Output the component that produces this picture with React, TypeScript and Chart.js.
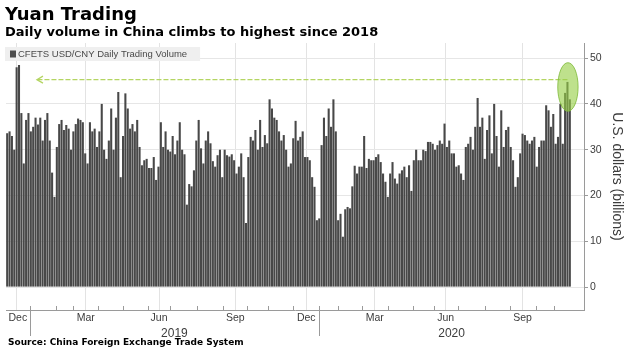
import React, { useEffect, useRef } from 'react';
import { Chart, registerables } from 'chart.js';

Chart.register(...registerables);

const titleText = 'Yuan Trading';
const subtitleText = 'Daily volume in China climbs to highest since 2018';
const sourceText = 'Source: China Foreign Exchange Trade System';
const seriesLabel = 'CFETS USD/CNY Daily Trading Volume';
const yAxisTitle = 'U.S. dollars (billions)';

// Calendar months on the axis (Dec 2018 – Nov 2020) and trading days in each
const months = ['Dec', 'Jan', 'Feb', 'Mar', 'Apr', 'May', 'Jun', 'Jul', 'Aug', 'Sep', 'Oct', 'Nov', 'Dec', 'Jan', 'Feb', 'Mar', 'Apr', 'May', 'Jun', 'Jul', 'Aug', 'Sep', 'Oct', 'Nov'];
const tradingDaysPerMonth = [20, 22, 15, 21, 21, 21, 19, 23, 22, 20, 18, 21, 22, 16, 20, 22, 21, 18, 20, 23, 21, 22, 16, 21];
const axisEndDay = 489;
const labelledMonths = ['Dec', 'Mar', 'Jun', 'Sep'];
const gridMonths = ['Jan', 'Apr', 'Jul', 'Oct'];
const yearLabels = ['2019', '2020'];
const yTicks = [0, 10, 20, 30, 40, 50];
const yMin = -5;
const yMax = 53.3;
const daysPerBar = 2;

// USD/CNY volume, billions of dollars (one bar per two trading days)
const volume = [
  33.6, 34, 33, 30, 48, 48.5, 38, 27, 36.5, 38, 34, 35, 37, 35.5, 37, 32, 36.5, 38, 32, 25,
  19.7, 30.6, 35.6, 36.5, 34.3, 35.4, 34.6, 30, 34, 35.6, 36.8, 36.5, 36, 29.2, 27, 36, 34, 34.6, 30.6, 34,
  40, 30, 28, 32, 39, 30, 37, 42.6, 24, 33, 42.3, 39, 34.6, 35.6, 34, 36.5, 30.6, 26.6, 27.7, 28,
  26, 26, 28.4, 23.4, 26.3,
  36, 30.6, 34, 30, 29.6, 33, 29, 32, 36, 30, 29, 18, 22.5, 22, 25.5, 32, 36.5, 30.3, 27, 32,
  34, 31.4, 27.5, 26.3, 28.8, 30, 24, 30, 28.8, 28.5, 29, 27.7, 24.8, 26.3, 29.2, 24, 14, 28.4, 32.8, 32,
  34.3, 30, 36.5, 30.6, 33.2, 31.4, 41, 39, 37, 36.5, 34, 32, 33.2, 30, 26.3, 27, 32.5, 36.3, 32, 32.8,
  34, 28.4, 28.4, 27.7,
  24, 21.9, 14.6, 15, 31, 37, 33, 39, 35, 41, 34, 14.6, 16, 11, 17, 17.5, 17.2, 22, 26.5, 24.8,
  26.3, 26.3, 33, 26, 28, 27.7, 27.7, 28.4, 29, 27.3, 24.8, 23, 19.7, 24.8, 27.3, 23.7, 22.6, 24.8, 25.5, 26.3,
  24, 26.6, 21, 27.7, 30, 27.7, 27.7, 30, 29.7, 31.7, 31.7, 31.3, 30, 31, 32, 31.3, 35.7, 30.6, 32, 29.2,
  29.2, 26.3, 26.6,
  24.8, 23.4, 30.6, 31.3, 32.8, 30, 35, 41.3, 35, 37, 28, 34.3, 37.5, 29.2, 40, 33, 26.3, 38.6, 30.6, 34.3,
  35, 30.6, 27.7, 21.9, 24, 29.2, 33.5, 33.2, 32, 31.3, 32, 32.8, 26.3, 30.6, 32, 32, 39.7, 38.6, 35, 37.8,
  31.3, 32.8, 40, 31.3, 42.4, 44.8, 41,
];

// Annotation: level of the 2018 high, arrow and highlight on the latest readings
const recordLevel = 45.3;
const arrowFromBar = 237;
const arrowToBar = 12.6;
const highlightCenterBar = 237.2;
const highlightCenterValue = 43.7;
const highlightHalfBars = 4.3;
const highlightHalfValue = 5.3;

const NARROW = "'Liberation Sans Narrow', 'Liberation Sans', Arial, sans-serif";
const REGULAR = "'Liberation Sans', Arial, sans-serif";
const HEAD = "'DejaVu Sans', Verdana, sans-serif";

const dayToX = (d: number) => d / daysPerBar - 0.5;

const monthStarts: number[] = [];
{
  let acc = 0;
  for (const n of tradingDaysPerMonth) {
    monthStarts.push(acc);
    acc += n;
  }
}
const monthEnds = monthStarts.map((s, i) => s + tradingDaysPerMonth[i]);
const boundaryXs = monthStarts.slice(1).map(dayToX);
const boundaryNames = months.slice(1);
const gridXs = boundaryXs.filter((_, i) => gridMonths.includes(boundaryNames[i]));
const yearXs = boundaryXs.filter((_, i) => boundaryNames[i] === 'Jan');
const labelIdx = months.map((m, i) => i).filter((i) => labelledMonths.includes(months[i]));
const monthLabelXs = labelIdx.map((i) => dayToX((monthStarts[i] + monthEnds[i]) / 2));
const monthLabelTexts = labelIdx.map((i) => months[i]);
const janIdx = months.map((m, i) => i).filter((i) => months[i] === 'Jan');
const yearSpanStarts = janIdx.map((i) => monthStarts[i]);
const yearSpanEnds = yearSpanStarts.map((s, k) => (k + 1 < yearSpanStarts.length ? yearSpanStarts[k + 1] : axisEndDay));
const yearLabelXs = yearSpanStarts.map((s, k) => dayToX((s + yearSpanEnds[k]) / 2));

const xMin = dayToX(0);
const xMax = dayToX(axisEndDay);

const overlayPlugin = {
  id: 'overlay',
  afterDatasetsDraw(chart: any) {
    const { ctx, chartArea } = chart;
    const xs = chart.scales.x;
    const ys = chart.scales.y;
    ctx.save();
    // month ticks (upward) and year separators (downward)
    ctx.strokeStyle = '#9a9a9a';
    ctx.lineWidth = 1;
    ctx.beginPath();
    boundaryXs.forEach((v) => {
      const px = Math.round(xs.getPixelForValue(v)) + 0.5;
      ctx.moveTo(px, chartArea.bottom - 4);
      ctx.lineTo(px, chartArea.bottom);
    });
    yearXs.forEach((v) => {
      const px = Math.round(xs.getPixelForValue(v)) + 0.5;
      ctx.moveTo(px, chartArea.bottom);
      ctx.lineTo(px, chartArea.bottom + 26);
    });
    ctx.stroke();

    // record level arrow
    const ly = ys.getPixelForValue(recordLevel);
    const x1 = xs.getPixelForValue(arrowToBar);
    const x2 = xs.getPixelForValue(arrowFromBar);
    ctx.strokeStyle = '#b4d562';
    ctx.lineWidth = 1.3;
    ctx.setLineDash([5, 2]);
    ctx.beginPath();
    ctx.moveTo(x2, ly);
    ctx.lineTo(x1, ly);
    ctx.stroke();
    ctx.setLineDash([]);
    ctx.beginPath();
    ctx.moveTo(x1 + 6, ly - 3.5);
    ctx.lineTo(x1, ly);
    ctx.lineTo(x1 + 6, ly + 3.5);
    ctx.stroke();

    // highlight ellipse
    const cx = xs.getPixelForValue(highlightCenterBar);
    const cy = ys.getPixelForValue(highlightCenterValue);
    const rx = Math.abs(xs.getPixelForValue(highlightCenterBar + highlightHalfBars) - cx);
    const ry = Math.abs(ys.getPixelForValue(highlightCenterValue + highlightHalfValue) - cy);
    ctx.beginPath();
    ctx.ellipse(cx, cy, rx, ry, 0, 0, Math.PI * 2);
    ctx.fillStyle = 'rgba(150, 206, 70, 0.62)';
    ctx.fill();
    ctx.strokeStyle = 'rgba(125, 185, 55, 0.8)';
    ctx.lineWidth = 1;
    ctx.stroke();

    // legend
    const lx = chartArea.left - 1;
    const lyTop = chartArea.top + 4;
    ctx.font = `9.5px ${NARROW}`;
    const tw = ctx.measureText(seriesLabel).width;
    ctx.fillStyle = '#efefef';
    ctx.fillRect(lx, lyTop, tw + 26, 14);
    ctx.fillStyle = '#4d4d4d';
    ctx.fillRect(lx + 5, lyTop + 3.5, 6, 7);
    ctx.fillStyle = '#4a4a4a';
    ctx.textBaseline = 'middle';
    ctx.textAlign = 'left';
    ctx.fillText(seriesLabel, lx + 13, lyTop + 7.5);
    ctx.restore();
  },
};

export default function App() {
  const ref = useRef<HTMLCanvasElement | null>(null);

  useEffect(() => {
    if (!ref.current) return;
    const chart = new Chart(ref.current, {
      type: 'bar',
      data: {
        datasets: [
          {
            label: seriesLabel,
            data: volume.map((v, i) => ({ x: i, y: v })),
            backgroundColor: '#484848',
            barPercentage: 0.88,
            categoryPercentage: 1,
            xAxisID: 'x',
            yAxisID: 'y',
          },
        ],
      },
      options: {
        animation: false,
        responsive: false,
        maintainAspectRatio: false,
        layout: { padding: { left: 6, top: 43, right: 0, bottom: 19 } },
        plugins: { legend: { display: false }, tooltip: { enabled: false } },
        scales: {
          x: {
            type: 'linear',
            position: 'bottom',
            min: xMin,
            max: xMax,
            offset: false,
            weight: 0,
            afterBuildTicks: (s: any) => {
              s.ticks = boundaryXs.map((v) => ({ value: v }));
            },
            afterFit: (s: any) => {
              s.height = 0;
            },
            ticks: { display: false, autoSkip: false },
            grid: {
              drawTicks: false,
              color: (c: any) => (c.tick && gridXs.includes(c.tick.value) ? '#e3e3e3' : 'rgba(0,0,0,0)'),
              lineWidth: 1,
            },
            border: { display: true, color: '#9a9a9a' },
          },
          xm: {
            type: 'linear',
            position: 'bottom',
            min: xMin,
            max: xMax,
            offset: false,
            weight: 1,
            afterBuildTicks: (s: any) => {
              s.ticks = monthLabelXs.map((v) => ({ value: v }));
            },
            afterFit: (s: any) => {
              s.height = 15;
            },
            ticks: {
              autoSkip: false,
              maxRotation: 0,
              padding: 2,
              color: '#3c3c3c',
              font: { family: NARROW, size: 10.5 },
              callback: (_v: any, i: number) => monthLabelTexts[i],
            },
            grid: { display: false, drawTicks: false },
            border: { display: false },
          },
          xy: {
            type: 'linear',
            position: 'bottom',
            min: xMin,
            max: xMax,
            offset: false,
            weight: 2,
            afterBuildTicks: (s: any) => {
              s.ticks = yearLabelXs.map((v) => ({ value: v }));
            },
            afterFit: (s: any) => {
              s.height = 14;
            },
            ticks: {
              autoSkip: false,
              maxRotation: 0,
              padding: 1,
              color: '#3c3c3c',
              font: { family: REGULAR, size: 12 },
              callback: (_v: any, i: number) => yearLabels[i],
            },
            grid: { display: false, drawTicks: false },
            border: { display: false },
          },
          y: {
            type: 'linear',
            position: 'right',
            min: yMin,
            max: yMax,
            afterBuildTicks: (s: any) => {
              s.ticks = yTicks.map((v) => ({ value: v }));
            },
            afterFit: (s: any) => {
              s.width = 46;
            },
            ticks: {
              padding: 2,
              color: '#3c3c3c',
              font: { family: NARROW, size: 10.5 },
            },
            grid: { color: '#e6e6e6', tickColor: '#9a9a9a', tickLength: 4 },
            border: { display: true, color: '#9a9a9a' },
            title: {
              display: true,
              text: yAxisTitle,
              color: '#3c3c3c',
              font: { family: REGULAR, size: 14 },
              padding: { top: 4.5, bottom: 0 },
            },
          },
        },
      } as any,
      plugins: [overlayPlugin],
    });
    return () => chart.destroy();
  }, []);

  return (
    <div style={{ position: 'fixed', left: 0, top: 0, width: 630, height: 358, background: '#fff', overflow: 'hidden' }}>
      <canvas ref={ref} width={630} height={358} style={{ position: 'absolute', left: 0, top: 0, width: 630, height: 358 }} />
      <div style={{ position: 'absolute', left: 5, top: 4.75, font: `bold 18px/18px ${HEAD}`, color: '#000', whiteSpace: 'nowrap' }}>{titleText}</div>
      <div style={{ position: 'absolute', left: 5, top: 25, font: `bold 13px/13px ${HEAD}`, color: '#000', whiteSpace: 'nowrap' }}>{subtitleText}</div>
      <div style={{ position: 'absolute', left: 8, top: 338.4, font: `bold 9px/9px ${HEAD}`, color: '#000', whiteSpace: 'nowrap' }}>{sourceText}</div>
    </div>
  );
}
